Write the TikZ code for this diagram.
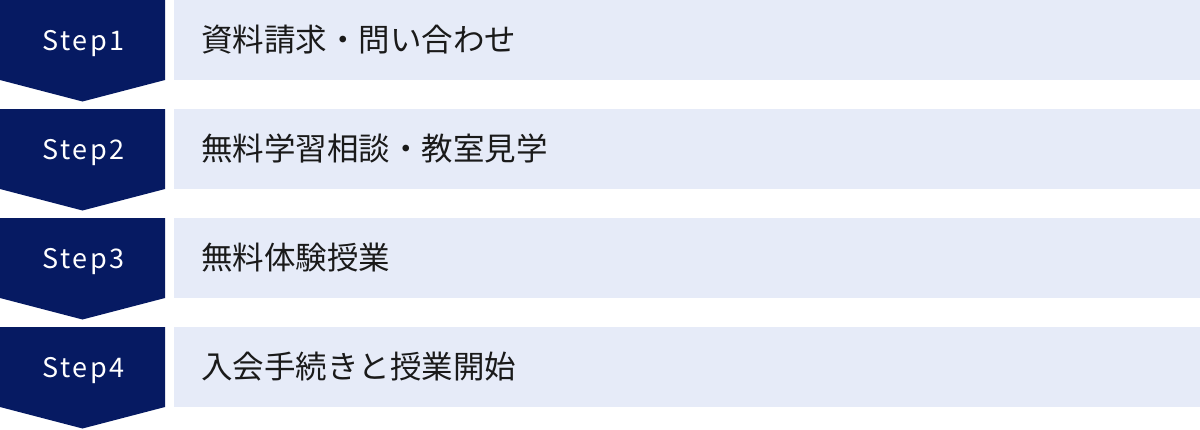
\documentclass[tikz,border=0pt]{standalone}
\usepackage{fontspec}
\setmainfont{Noto Sans CJK JP}
\definecolor{navy}{HTML}{061A62}
\definecolor{pale}{HTML}{E6EBF8}
\definecolor{ink}{HTML}{1A1A1A}
\begin{document}
\begin{tikzpicture}[x=1pt,y=-1pt,
  stepbox/.style={fill=navy,draw=none},
  stepname/.style={text=white,font=\fontsize{27}{30}\selectfont\addfontfeature{LetterSpace=9},inner sep=0pt,anchor=base},
  bar/.style={fill=pale,draw=none},
  bartext/.style={text=ink,font=\fontsize{31.5}{36}\selectfont,inner sep=0pt,anchor=base west}]
\useasboundingbox (0,0) rectangle (1200,429);
\foreach \i/\lbl/\txt in {0/Step1/資料請求・問い合わせ,1/Step2/無料学習相談・教室見学,2/Step3/無料体験授業,3/Step4/入会手続きと授業開始}{
  \pgfmathsetmacro{\t}{109*\i}
  \fill[stepbox] (0,\t) -- (165,\t) -- (165,\t+80) -- (82.5,\t+101.5) -- (0,\t+80) -- cycle;
  \fill[bar] (174,\t) rectangle (1200,\t+80);
  \node[stepname] (s\i) at (83.7,\t+50) {\lbl};
  \node[bartext] (t\i) at (201,\t+51.5) {\txt};
}
\end{tikzpicture}
\end{document}
